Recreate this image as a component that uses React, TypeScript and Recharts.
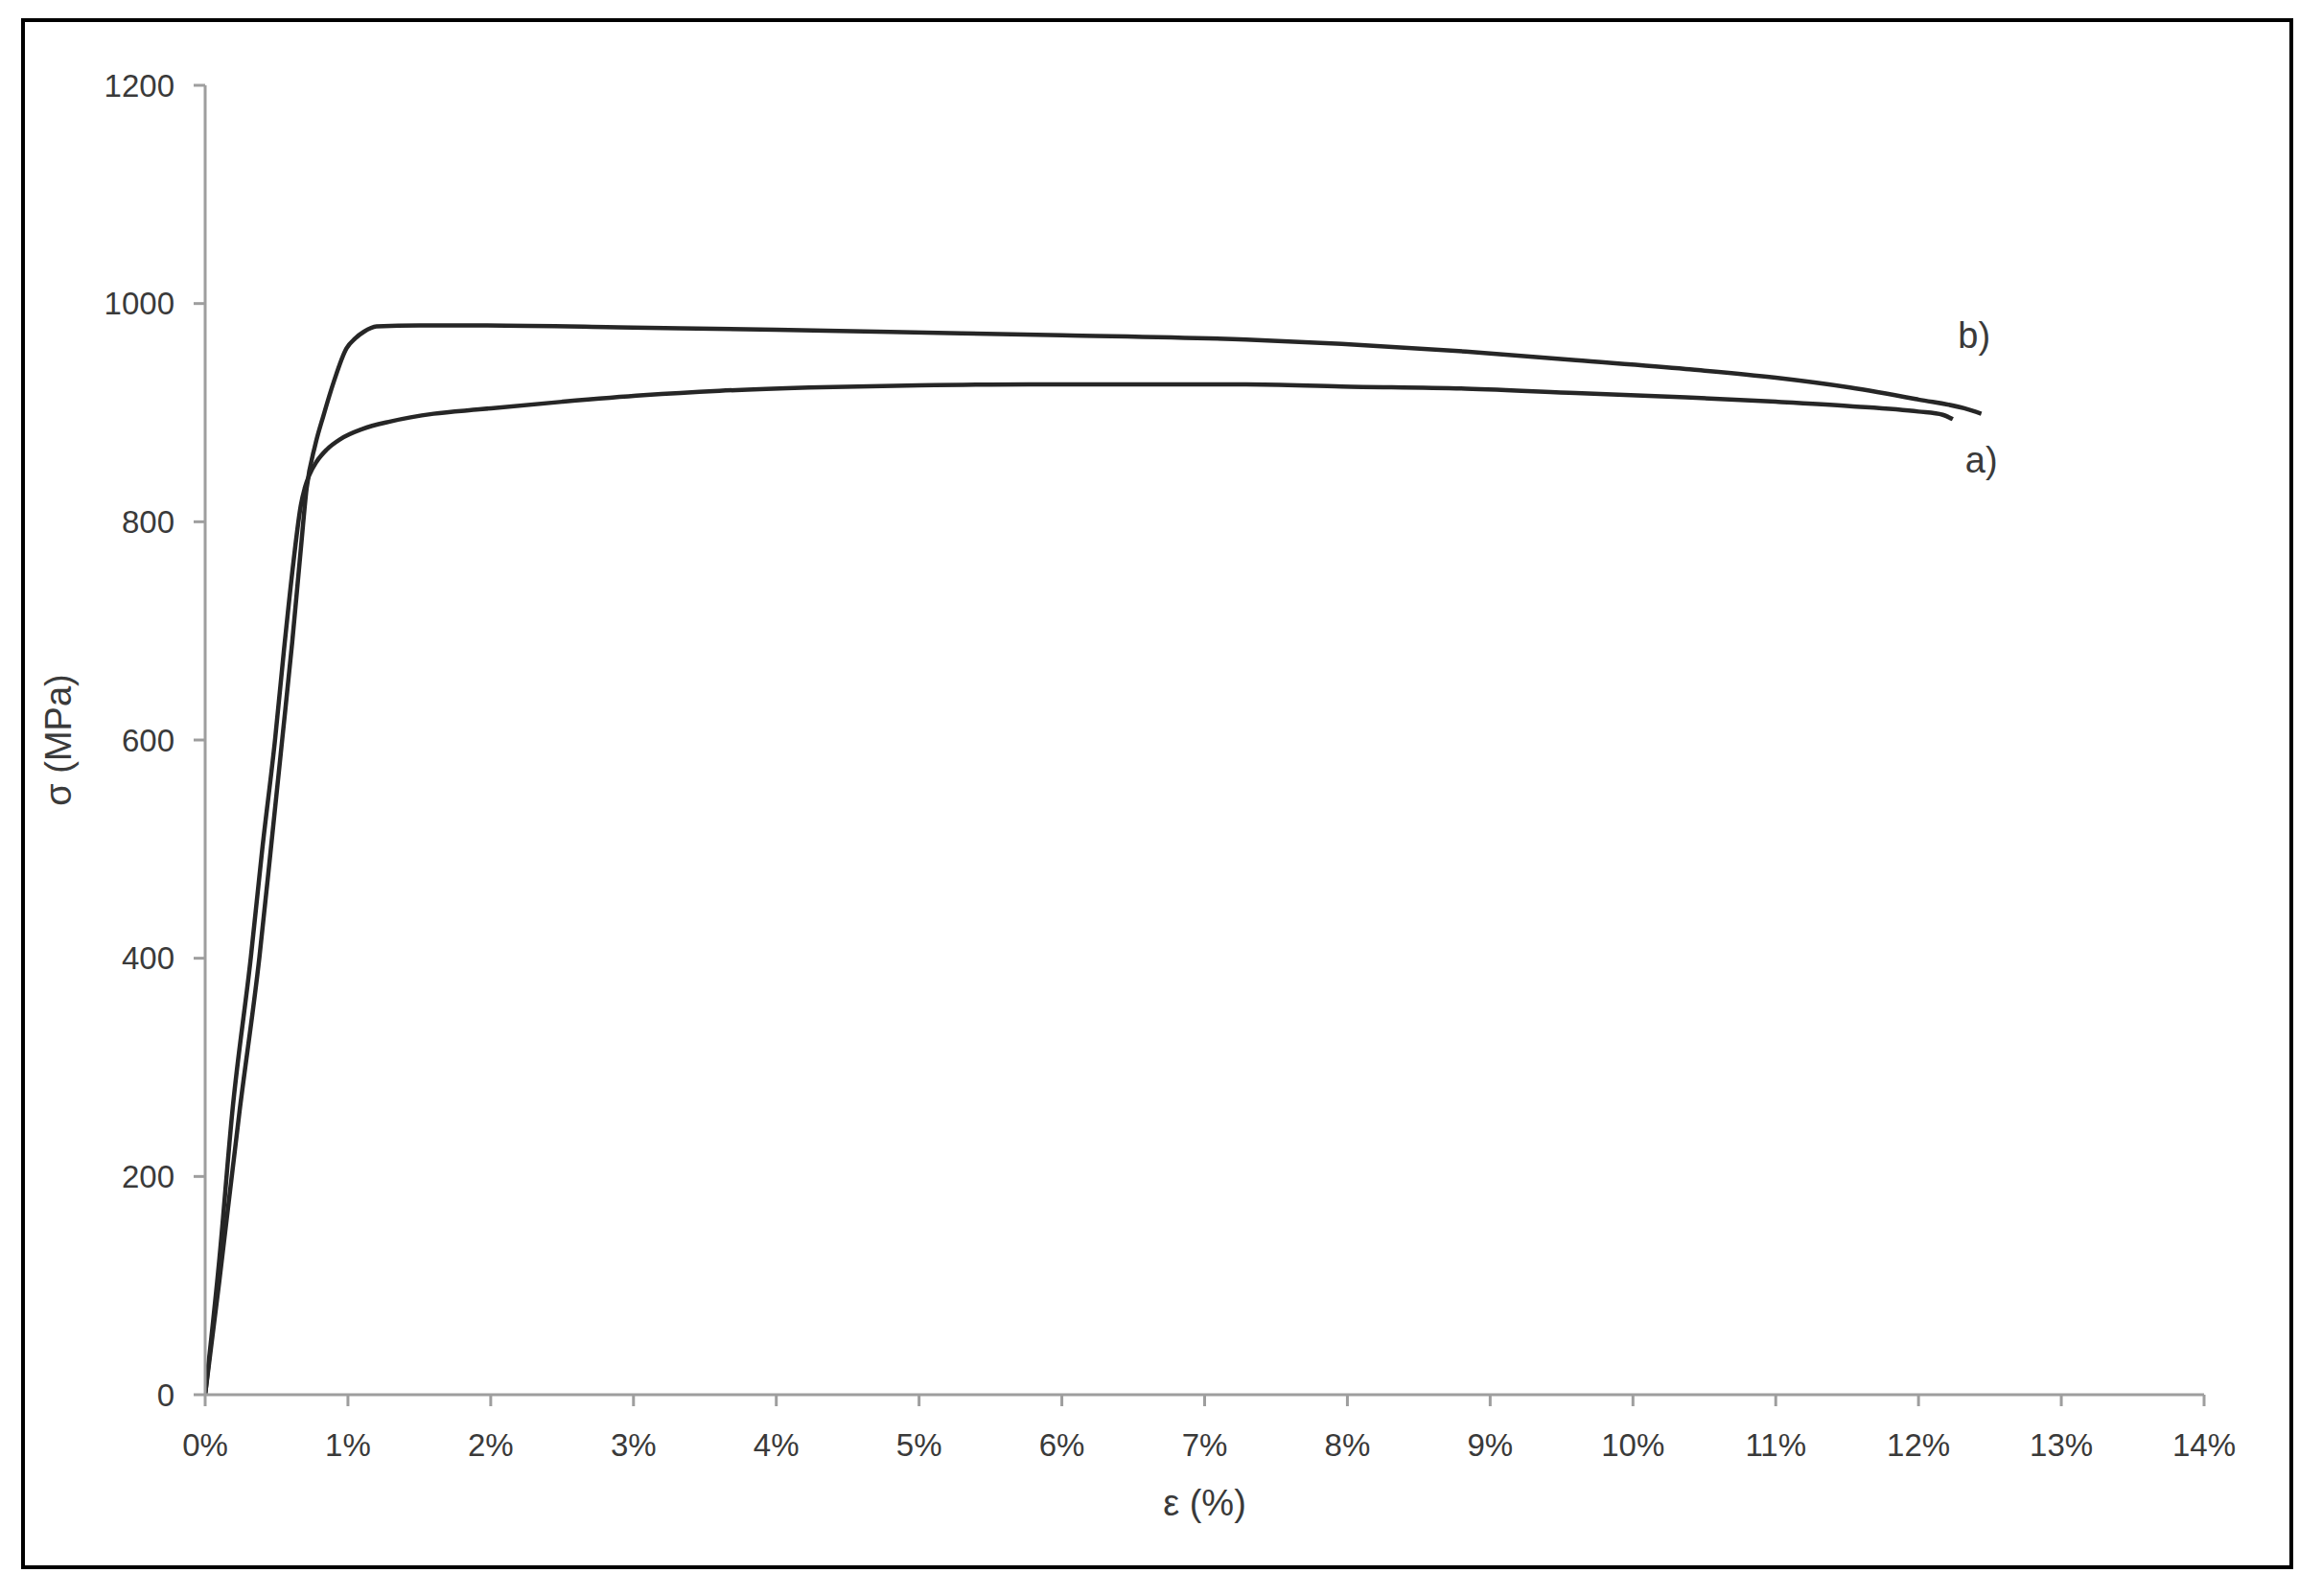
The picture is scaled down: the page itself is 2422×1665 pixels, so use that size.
import React from 'react';
import {LineChart, Line, XAxis, YAxis, Label, ReferenceDot} from 'recharts';

// strain (%) and stress (MPa)
const strainA = [0, 0.1, 0.19, 0.32, 0.4, 0.49, 0.55, 0.62, 0.67, 0.7, 0.73, 0.78, 0.85, 0.95, 1.1, 1.3, 1.6, 1.92, 2.5, 3.07, 3.6, 4.23, 5.0, 5.77, 6.5, 7.29, 7.96, 8.83, 9.6, 10.37, 11.0, 11.52, 12.0, 12.17, 12.24];
const stressA = [0, 125, 259, 401, 500, 601, 680, 765, 815, 832, 843, 855, 866, 876, 885, 892, 899, 903, 910, 916, 920, 923, 925, 926, 926, 926, 924, 922, 918, 914, 910, 906, 901, 898, 894];

const strainB = [0, 0.1, 0.24, 0.38, 0.46, 0.54, 0.61, 0.67, 0.71, 0.77, 0.83, 0.9, 0.99, 1.05, 1.11, 1.2, 1.5, 1.92, 3.0, 4.0, 4.8, 6.0, 7.29, 7.96, 8.83, 9.6, 10.37, 11.0, 11.52, 12.0, 12.32, 12.44];
const stressB = [0, 105, 259, 401, 500, 601, 690, 775, 830, 870, 898, 928, 959, 968, 974, 979, 980, 980, 978, 976, 974, 971, 967, 963, 956, 948, 940, 932, 923, 912, 904, 899];

const xTicks = [0, 1, 2, 3, 4, 5, 6, 7, 8, 9, 10, 11, 12, 13, 14];
const yTicks = [0, 200, 400, 600, 800, 1000, 1200];

const seriesA = strainA.map((x, i) => ({x, y: stressA[i]}));
const seriesB = strainB.map((x, i) => ({x, y: stressB[i]}));

const FONT = '"Liberation Sans", Arial, sans-serif';
const AXIS = '#9e9e9e';
const TEXT = '#3a3a3a';
const CURVE = '#262626';

export default function App() {
    return (
        <div style={{position: 'absolute', left: 0, top: 0, width: 2422, height: 1665, background: '#fff', fontFamily: FONT}}>
            <div style={{position: 'absolute', left: 22, top: 19, width: 2370, height: 1618, border: '4px solid #000', boxSizing: 'border-box'}}/>
            <div style={{position: 'absolute', left: 0, top: 0}}>
                <LineChart width={2422} height={1665} margin={{top: 89, right: 123, bottom: 90, left: 64}}>
                    <XAxis
                        dataKey="x"
                        type="number"
                        domain={[0, 14]}
                        ticks={xTicks}
                        tickFormatter={(v) => `${v}%`}
                        height={120}
                        stroke={AXIS}
                        strokeWidth={3}
                        tickSize={12}
                        tickMargin={29}
                        tick={{fill: TEXT, fontSize: 33, fontFamily: FONT}}
                        allowDataOverflow
                    >
                        <Label value="ε (%)" position="insideBottom" offset={-6} fill={TEXT} fontSize={38} fontFamily={FONT}/>
                    </XAxis>
                    <YAxis
                        type="number"
                        domain={[0, 1200]}
                        ticks={yTicks}
                        width={150}
                        stroke={AXIS}
                        strokeWidth={3}
                        tickSize={12}
                        tickMargin={20}
                        tick={{fill: TEXT, fontSize: 33, fontFamily: FONT}}
                    >
                        <Label value="σ (MPa)" angle={-90} position="insideLeft" offset={-3} fill={TEXT} fontSize={38} fontFamily={FONT} style={{textAnchor: 'middle'}}/>
                    </YAxis>
                    <Line data={seriesA} dataKey="y" type="monotone" stroke={CURVE} strokeWidth={4.5} dot={false} isAnimationActive={false}/>
                    <Line data={seriesB} dataKey="y" type="monotone" stroke={CURVE} strokeWidth={4.5} dot={false} isAnimationActive={false}/>
                    <ReferenceDot x={12.39} y={971} r={0} stroke="none" label={{value: 'b)', position: 'center', fill: TEXT, fontSize: 38, fontFamily: FONT}}/>
                    <ReferenceDot x={12.44} y={857} r={0} stroke="none" label={{value: 'a)', position: 'center', fill: TEXT, fontSize: 38, fontFamily: FONT}}/>
                </LineChart>
            </div>
        </div>
    );
}
